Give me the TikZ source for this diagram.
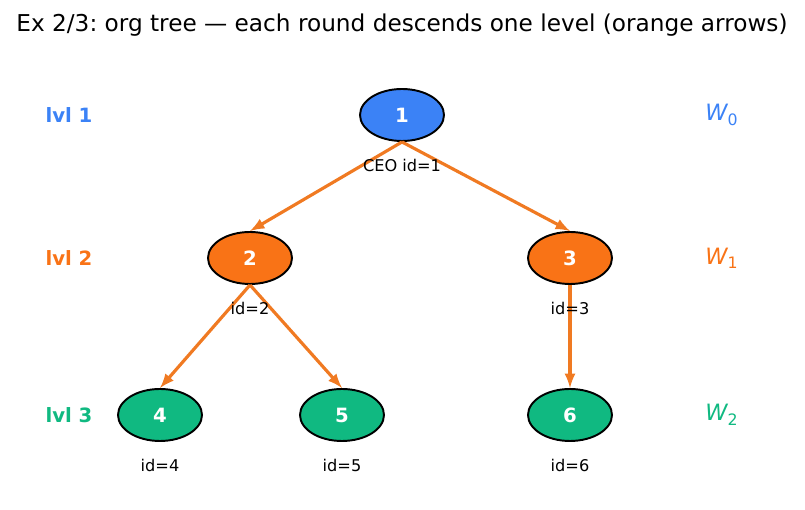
\documentclass[tikz,border=0pt]{standalone}
\usepackage{fontspec}
\setmainfont{DejaVu Sans}
\usetikzlibrary{shapes.geometric}
\frenchspacing

\definecolor{lvlblue}{HTML}{3B82F6}
\definecolor{lvlorange}{HTML}{F97316}
\definecolor{lvlgreen}{HTML}{10B981}
\definecolor{arrorange}{HTML}{F07A22}

\begin{document}
\begin{tikzpicture}[
    % Tree nodes
    no/.style={
        draw=black, ellipse, line width=1.1pt,
        minimum width=1.68cm, minimum height=1.04cm,
        inner sep=0pt, text=white, font=\fontsize{11.2}{13}\selectfont\bfseries
    },
    % Small id labels under nodes
    noid/.style={font=\fontsize{9.2}{11}\selectfont, text=black},
    % Level labels (left)
    nolvl/.style={font=\fontsize{11.2}{13}\selectfont\bfseries},
    % Round labels (right)
    noround/.style={font=\fontsize{12.8}{15}\selectfont\itshape},
    linha/.style={draw=arrorange, line width=1.8pt, -latex}
]
\useasboundingbox (0,0) rectangle (16.1,10.2);

% ---- TITLE ----
\node[font=\fontsize{13.2}{16}\selectfont] (titulo) at (8.04, 9.7)
    {Ex 2/3: org tree — each round descends one level (orange arrows)};

% ---- LEVEL 1: ROOT ----
\node[no, fill=lvlblue] (n1) at (8.04, 7.9) {1};

% ---- LEVEL 2 ----
\node[no, fill=lvlorange] (n2) at ( 5.0, 5.04) {2};
\node[no, fill=lvlorange] (n3) at (11.4, 5.04) {3};

% ---- LEVEL 3 ----
\node[no, fill=lvlgreen] (n4) at ( 3.2, 1.9) {4};
\node[no, fill=lvlgreen] (n5) at (6.84, 1.9) {5};
\node[no, fill=lvlgreen] (n6) at (11.4, 1.9) {6};

% ---- ARROWS (one level per round) ----
\draw[linha] (n1.south) -- (n2.north);
\draw[linha] (n1.south) -- (n3.north);
\draw[linha] (n2.south) -- (n4.north);
\draw[linha] (n2.south) -- (n5.north);
\draw[linha] (n3.south) -- (n6.north);

% ---- ID LABELS ----
\node[noid] (id1) at (8.04, 6.9)  {CEO id=1};
\node[noid] (id2) at ( 5.0, 4.04) {id=2};
\node[noid] (id3) at (11.4, 4.04) {id=3};
\node[noid] (id4) at ( 3.2, 0.9)  {id=4};
\node[noid] (id5) at (6.84, 0.9)  {id=5};
\node[noid] (id6) at (11.4, 0.9)  {id=6};

% ---- LEVEL LABELS (left side) ----
\node[nolvl, text=lvlblue]   (l1) at (1.38, 7.9)  {lvl 1};
\node[nolvl, text=lvlorange] (l2) at (1.38, 5.04) {lvl 2};
\node[nolvl, text=lvlgreen]  (l3) at (1.38, 1.9)  {lvl 3};

% ---- ROUND LABELS (right side) ----
\node[noround, text=lvlblue]   (w0) at (14.44, 7.9)  {W\textsubscript{\upshape 0}};
\node[noround, text=lvlorange] (w1) at (14.44, 5.04) {W\textsubscript{\upshape 1}};
\node[noround, text=lvlgreen]  (w2) at (14.44, 1.9)  {W\textsubscript{\upshape 2}};

\end{tikzpicture}
\end{document}
